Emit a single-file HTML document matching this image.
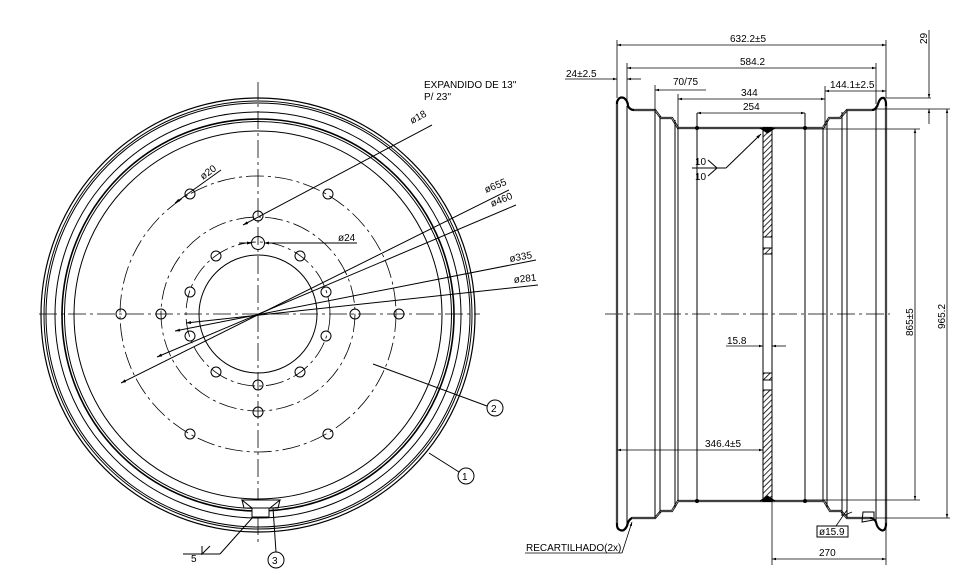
<!DOCTYPE html>
<html><head><meta charset="utf-8"><style>
html,body{margin:0;padding:0;background:#fff}
svg{display:block}
text{font-family:"Liberation Sans",sans-serif;font-size:10px;fill:#000}
</style></head><body>
<svg width="978" height="582" viewBox="0 0 978 582" xmlns="http://www.w3.org/2000/svg">
<defs>
<marker id="a" viewBox="0 0 10 10" refX="10" refY="5" markerWidth="7" markerHeight="5" orient="auto-start-reverse"><path d="M0,2 L10,5 L0,8 z" fill="#000"/></marker>
<pattern id="h" width="4" height="4" patternUnits="userSpaceOnUse" patternTransform="rotate(45)"><rect width="4" height="4" fill="#fff"/><line x1="0" y1="0" x2="0" y2="4" stroke="#000" stroke-width="1.6"/></pattern>
</defs>
<g fill="none" stroke="#000" stroke-width="1">
<!-- LEFT VIEW -->
<circle cx="258" cy="315" r="217" stroke-width="1.2"/>
<circle cx="258" cy="315" r="214"/>
<circle cx="258" cy="315" r="212"/>
<circle cx="258" cy="315" r="203"/>
<circle cx="258" cy="315" r="196" stroke-width="1.6"/>
<circle cx="258" cy="315" r="193.5"/>
<circle cx="258" cy="315" r="184"/>
<g stroke-dasharray="18,4,3,4" stroke-width="0.8">
<circle cx="258" cy="314" r="138"/>
<circle cx="258" cy="314" r="97"/>
<circle cx="258" cy="314" r="72"/>
<line x1="39" y1="314" x2="480" y2="314"/>
<line x1="258" y1="82" x2="258" y2="543"/>
</g>
<circle cx="258" cy="314" r="59"/>
<g>
<circle cx="121" cy="314" r="5"/><circle cx="399" cy="314" r="5"/>
<circle cx="190" cy="194" r="5"/><circle cx="328" cy="194" r="5"/>
<circle cx="190" cy="434" r="5"/><circle cx="328" cy="434" r="5"/>
<circle cx="258" cy="216" r="5"/><circle cx="258" cy="412" r="5"/>
<circle cx="161" cy="314" r="5"/><circle cx="355" cy="314" r="5"/>
<circle cx="258" cy="243" r="6.5"/>
<circle cx="300" cy="256" r="5"/><circle cx="216" cy="256" r="5"/>
<circle cx="326" cy="292" r="5"/><circle cx="190" cy="292" r="5"/>
<circle cx="326" cy="336" r="5"/><circle cx="190" cy="336" r="5"/>
<circle cx="300" cy="372" r="5"/><circle cx="216" cy="372" r="5"/>
<circle cx="258" cy="385" r="5"/>
</g>
<line x1="243" y1="225" x2="432" y2="125" marker-start="url(#a)"/>
<line x1="175" y1="203" x2="221" y2="170" marker-start="url(#a)"/>
<line x1="121" y1="383" x2="509" y2="190" marker-start="url(#a)"/>
<line x1="157" y1="357" x2="516" y2="205" marker-start="url(#a)"/>
<line x1="175" y1="331" x2="536" y2="260" marker-start="url(#a)"/>
<line x1="186" y1="323" x2="538" y2="285" marker-start="url(#a)"/>
<line x1="239" y1="243" x2="252" y2="243" marker-end="url(#a)"/>
<line x1="264" y1="243" x2="357" y2="243" marker-start="url(#a)"/>
<line x1="373" y1="364" x2="487" y2="406"/>
<circle cx="495" cy="408" r="8"/>
<line x1="429" y1="453" x2="459" y2="472"/>
<circle cx="466" cy="476" r="8"/>
<path d="M242,500 L280,500 L270,508 L252,508 Z" fill="#fff"/>
<path d="M242,500 L244,508 L252,508 M280,500 L278,508 L270,508"/>
<rect x="252" y="508" width="17" height="9" fill="#fff"/>
<line x1="253" y1="517" x2="220" y2="554"/>
<line x1="183" y1="554" x2="220" y2="554"/>
<path d="M202,546 L202,554 L210,546"/>
<line x1="273" y1="508" x2="276" y2="552"/>
<circle cx="276" cy="560" r="8"/>

<!-- RIGHT VIEW -->
<line x1="605" y1="314" x2="890" y2="314" stroke-dasharray="18,4,3,4" stroke-width="0.8"/>
<g stroke-width="2.2">
<path d="M617,525 L617,102 Q619,96 624,98 Q628,101 628,106 Q630,110 634,110 L655,110 L661,118 L672,118 L678,128 L823,128 L829,118 L840,118 L847,110 L872,110 Q876,110 878,104 Q880,97 884,98 Q886,100 886,104 L886,525 Q885,532 881,530 Q877,528 876,522 Q874,518 870,518 L847,518 L841,511 L830,511 L824,501 L678,501 L672,511 L661,511 L655,518 L632,518 Q628,520 627,526 Q624,532 620,530 Q617,529 617,525"/>
</g>
<g stroke="#aaa" stroke-width="0.8">
<path d="M634,110 L655,110 L661,118 L672,118 L678,128 L823,128 L829,118 L840,118 L847,110 L872,110"/>
<path d="M632,518 L655,518 L661,511 L672,511 L678,501 L824,501 L830,511 L841,511 L847,518 L870,518"/>
<line x1="617" y1="104" x2="617" y2="523"/><line x1="886" y1="106" x2="886" y2="523"/>
</g>
<g>
<line x1="627" y1="106" x2="627" y2="523"/>
<line x1="655" y1="110" x2="655" y2="518"/>
<line x1="660" y1="116" x2="660" y2="513"/>
<line x1="675" y1="120" x2="675" y2="508"/>
<line x1="678" y1="128" x2="678" y2="501"/>
<line x1="697" y1="113" x2="697" y2="501"/>
<line x1="805" y1="113" x2="805" y2="501"/>
<line x1="823" y1="128" x2="823" y2="501"/>
<line x1="827" y1="120" x2="827" y2="508"/>
<line x1="842" y1="112" x2="842" y2="516"/>
<line x1="847" y1="110" x2="847" y2="518"/>
<line x1="876" y1="106" x2="876" y2="523"/>
</g>
<circle cx="697" cy="128" r="1.5" fill="#000"/><circle cx="805" cy="128" r="1.5" fill="#000"/>
<circle cx="697" cy="501" r="1.5" fill="#000"/><circle cx="805" cy="501" r="1.5" fill="#000"/>
<rect x="763" y="128" width="9" height="109" fill="url(#h)"/>
<rect x="763" y="248" width="9" height="6" fill="url(#h)"/>
<rect x="763" y="373" width="9" height="7" fill="url(#h)"/>
<rect x="763" y="390" width="9" height="111" fill="url(#h)"/>
<line x1="763" y1="128" x2="763" y2="501"/><line x1="772" y1="128" x2="772" y2="501"/>
<path d="M760,128 L767.5,133 L775,128 M760,501 L767.5,496 L775,501" fill="#000"/>
<line x1="692" y1="168" x2="726" y2="168"/>
<path d="M708,160 L717,168 L708,176"/>
<line x1="726" y1="168" x2="761" y2="134" marker-end="url(#a)"/>
<g stroke-width="0.8">
<line x1="617" y1="40" x2="617" y2="98"/><line x1="886" y1="40" x2="886" y2="98"/>
<line x1="617" y1="45" x2="886" y2="45" marker-start="url(#a)" marker-end="url(#a)"/>
<line x1="627" y1="63" x2="627" y2="104"/><line x1="876" y1="63" x2="876" y2="104"/>
<line x1="627" y1="68" x2="876" y2="68" marker-start="url(#a)" marker-end="url(#a)"/>
<line x1="565" y1="79" x2="617" y2="79" marker-end="url(#a)"/>
<line x1="627" y1="79" x2="641" y2="79" marker-start="url(#a)"/>
<line x1="655" y1="85" x2="655" y2="110"/>
<line x1="655" y1="90" x2="706" y2="90" marker-start="url(#a)"/>
<line x1="678" y1="94" x2="678" y2="128"/><line x1="825" y1="86" x2="825" y2="128"/>
<line x1="678" y1="99" x2="825" y2="99" marker-start="url(#a)" marker-end="url(#a)"/>
<line x1="697" y1="113" x2="805" y2="113" marker-start="url(#a)" marker-end="url(#a)"/>
<line x1="825" y1="91" x2="886" y2="91" marker-start="url(#a)" marker-end="url(#a)"/>
<line x1="886" y1="98" x2="931" y2="98"/>
<line x1="876" y1="109" x2="950" y2="109"/>
<line x1="929" y1="30" x2="929" y2="98" marker-end="url(#a)"/>
<line x1="929" y1="124" x2="929" y2="109" marker-end="url(#a)"/>
<line x1="805" y1="129" x2="920" y2="129"/><line x1="805" y1="500" x2="920" y2="500"/>
<line x1="915" y1="129" x2="915" y2="500" marker-start="url(#a)" marker-end="url(#a)"/>
<line x1="876" y1="518" x2="950" y2="518"/>
<line x1="947" y1="109" x2="947" y2="518" marker-start="url(#a)" marker-end="url(#a)"/>
<line x1="726" y1="346" x2="763" y2="346" marker-end="url(#a)"/>
<line x1="772" y1="346" x2="786" y2="346" marker-start="url(#a)"/>
<line x1="617" y1="450" x2="763" y2="450" marker-start="url(#a)" marker-end="url(#a)"/>
<line x1="772" y1="501" x2="772" y2="565"/><line x1="886" y1="525" x2="886" y2="565"/>
<line x1="772" y1="559" x2="886" y2="559" marker-start="url(#a)" marker-end="url(#a)"/>
<line x1="622" y1="553" x2="632" y2="522" marker-end="url(#a)"/>
<line x1="525" y1="553" x2="622" y2="553"/>
<line x1="836" y1="526" x2="847" y2="510"/>
<line x1="845" y1="515" x2="852" y2="512"/>
</g>
<rect x="817" y="526" width="31" height="11"/>
<path d="M863,512 L874,512 L874,520 L862,522 Z"/>
</g>
<g>
<text x="424" y="88" font-size="11">EXPANDIDO  DE  13''</text>
<text x="424" y="100" font-size="11">P/  23''</text>
<text x="412" y="124" font-size="9" transform="rotate(-28 412 124)">ø18</text>
<text x="203" y="180" font-size="9" transform="rotate(-36 203 180)">ø20</text>
<text x="486" y="193" font-size="9" transform="rotate(-22 486 193)">ø655</text>
<text x="492" y="207" font-size="9" transform="rotate(-22 492 207)">ø460</text>
<text x="510" y="262" font-size="9" transform="rotate(-10 510 262)">ø335</text>
<text x="514" y="283" font-size="9" transform="rotate(-6 514 283)">ø281</text>
<text x="338" y="241" font-size="9">ø24</text>
<text x="491" y="412" font-size="11">2</text>
<text x="462" y="480" font-size="11">1</text>
<text x="272" y="564" font-size="11">3</text>
<text x="191" y="562" font-size="9">5</text>
<text x="730" y="42">632.2±5</text>
<text x="740" y="65">584.2</text>
<text x="566" y="77">24±2.5</text>
<text x="673" y="85">70/75</text>
<text x="741" y="96">344</text>
<text x="743" y="110">254</text>
<text x="830" y="88">144.1±2.5</text>
<text x="695" y="165" font-size="9">10</text>
<text x="695" y="180" font-size="9">10</text>
<text x="727" y="344">15.8</text>
<text x="705" y="447">346.4±5</text>
<text x="819" y="556">270</text>
<text x="819" y="535">ø15.9</text>
<text x="526" y="551" font-size="9">RECARTILHADO(2x)</text>
<text x="0" y="0" transform="translate(927 44) rotate(-90)">29</text>
<text x="0" y="0" transform="translate(913 336) rotate(-90)">865±5</text>
<text x="0" y="0" transform="translate(945 329) rotate(-90)">965.2</text>
</g>
</svg>
</body></html>
